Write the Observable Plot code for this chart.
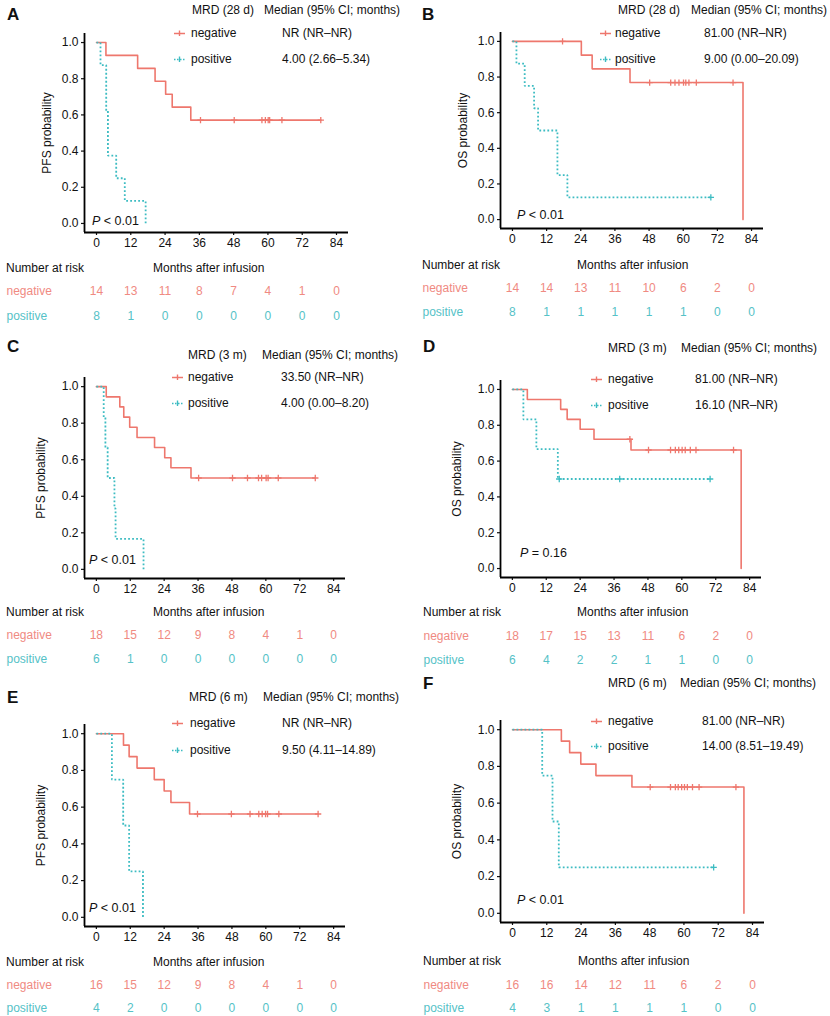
<!DOCTYPE html>
<html><head><meta charset="utf-8">
<script src="https://cdn.jsdelivr.net/npm/d3@7"></script>
<script src="https://cdn.jsdelivr.net/npm/@observablehq/plot@0.6"></script>
<style>
body{margin:0;background:#fff;font-family:"Liberation Sans",Arial,Helvetica,sans-serif;color:#111;}
#page{position:relative;width:830px;height:1016px;overflow:hidden;background:#fff;}
.abs{position:absolute;white-space:nowrap;line-height:1;font-size:12px;transform:translateY(-50%);}
.letter{font-weight:bold;font-size:17px;}
svg.plot{position:absolute;overflow:visible;}
</style></head><body><div id="page"></div>
<script>
// ---------- data ----------
const monthTicks = [0, 12, 24, 36, 48, 60, 72, 84];
const probTicks = [0, 0.2, 0.4, 0.6, 0.8, 1.0];
const groups = ["negative", "positive"];

// Panel A: PFS, MRD (28 d)
const A_negT = [0, 3.3, 14.4, 20.5, 24.2, 26.5, 33];
const A_negS = [1, 0.929, 0.857, 0.786, 0.714, 0.643, 0.571];
const A_negC = [36.4, 48.2, 57.9, 59.1, 60.1, 60.6, 64.9, 78.5];
const A_posT = [0, 1.4, 3.4, 4.0, 6.9, 9.9, 17.2];
const A_posS = [1, 0.875, 0.625, 0.375, 0.25, 0.125, 0];
const A_posC = [];
const A_riskNeg = [14, 13, 11, 8, 7, 4, 1, 0];
const A_riskPos = [8, 1, 0, 0, 0, 0, 0, 0];

// Panel B: OS, MRD (28 d)
const B_negT = [0, 24.2, 28, 41.3, 81];
const B_negS = [1, 0.923, 0.846, 0.769, 0];
const B_negC = [17.6, 48.2, 55.6, 57.1, 58.5, 60.1, 60.9, 62, 64.6, 77.5];
const B_posT = [0, 1.4, 4.3, 7.6, 9.0, 15.8, 19.3];
const B_posS = [1, 0.875, 0.75, 0.625, 0.5, 0.25, 0.125];
const B_posC = [69.7];
const B_riskNeg = [14, 14, 13, 11, 10, 6, 2, 0];
const B_riskPos = [8, 1, 1, 1, 1, 1, 0, 0];

// Panel C: PFS, MRD (3 m)
const C_negT = [0, 3.5, 8.3, 9.7, 11.8, 14.4, 20.6, 24.2, 26.4, 33.5];
const C_negS = [1, 0.944, 0.889, 0.833, 0.778, 0.722, 0.667, 0.611, 0.556, 0.5];
const C_negC = [36.2, 48.2, 53.5, 57.4, 58.5, 60.1, 60.8, 64.4, 77.5];
const C_posT = [0, 2.6, 3.2, 4.0, 6.4, 6.8, 16.7];
const C_posS = [1, 0.833, 0.667, 0.5, 0.333, 0.167, 0];
const C_posC = [];
const C_riskNeg = [18, 15, 12, 9, 8, 4, 1, 0];
const C_riskPos = [6, 1, 0, 0, 0, 0, 0, 0];

// Panel D: OS, MRD (3 m)
const D_negT = [0, 5.3, 17.1, 19.4, 24.0, 28.9, 42, 81];
const D_negS = [1, 0.944, 0.889, 0.833, 0.778, 0.722, 0.662, 0];
const D_negC = [41.6, 48.2, 56, 57.7, 58.9, 60.1, 61.2, 63, 65, 78.3];
const D_posT = [0, 3.9, 8.5, 16.1];
const D_posS = [1, 0.833, 0.667, 0.5];
const D_posC = [16.6, 38, 70];
const D_riskNeg = [18, 17, 15, 13, 11, 6, 2, 0];
const D_riskPos = [6, 4, 2, 2, 1, 1, 0, 0];

// Panel E: PFS, MRD (6 m)
const E_negT = [0, 9.6, 11.6, 14.4, 20.5, 24.0, 26.4, 33];
const E_negS = [1, 0.9375, 0.875, 0.8125, 0.75, 0.6875, 0.625, 0.5625];
const E_negC = [35.8, 47.8, 54.4, 57.5, 58.7, 59.9, 60.6, 64.6, 78.5];
const E_posT = [0, 5.5, 9.5, 11.6, 16.5];
const E_posS = [1, 0.75, 0.5, 0.25, 0];
const E_posC = [];
const E_riskNeg = [16, 15, 12, 9, 8, 4, 1, 0];
const E_riskPos = [4, 2, 0, 0, 0, 0, 0, 0];

// Panel F: OS, MRD (6 m)
const F_negT = [0, 17.1, 20, 23.9, 29.2, 41.8, 81];
const F_negS = [1, 0.9375, 0.875, 0.8125, 0.75, 0.6875, 0];
const F_negC = [48.2, 55.3, 57, 58, 59.2, 60.2, 61.2, 63, 65.3, 78.2];
const F_posT = [0, 10.4, 14, 16.2];
const F_posS = [1, 0.75, 0.5, 0.25];
const F_posC = [70.4];
const F_riskNeg = [16, 16, 14, 12, 11, 6, 2, 0];
const F_riskPos = [4, 3, 1, 1, 1, 1, 0, 0];

// texts
const letters = ["A", "B", "C", "D", "E", "F"];
const yTitles = ["PFS probability", "OS probability", "PFS probability", "OS probability", "PFS probability", "OS probability"];
const mrdLabels = ["MRD (28 d)", "MRD (28 d)", "MRD (3 m)", "MRD (3 m)", "MRD (6 m)", "MRD (6 m)"];
const medianHeader = "Median (95% CI; months)";
const medNeg = ["NR (NR\u2013NR)", "81.00 (NR\u2013NR)", "33.50 (NR\u2013NR)", "81.00 (NR\u2013NR)", "NR (NR\u2013NR)", "81.00 (NR\u2013NR)"];
const medPos = ["4.00 (2.66\u20135.34)", "9.00 (0.00\u201320.09)", "4.00 (0.00\u20138.20)", "16.10 (NR\u2013NR)", "9.50 (4.11\u201314.89)", "14.00 (8.51\u201319.49)"];
const pTexts = ["< 0.01", "< 0.01", "< 0.01", "= 0.16", "< 0.01", "< 0.01"];
const riskTitle = "Number at risk";
const xTitle = "Months after infusion";

// ---------- styles / layout ----------
const RED = "#EE776D", TEAL = "#3DBCC2";
const RED_T = "#F08A82", TEAL_T = "#55C2C7";
const xDomain = [-4.2, 88.2], yDomain = [-0.05, 1.05];
const FONT = '"Liberation Sans", Arial, Helvetica, sans-serif';

const layout = [
  {Lx:0,   top:0,   h:252, ml:84, mr:67, mt:33, mb:20, lo:42, letter:[7,14],   leg:{hy:10, mrd:192, med:264, rows:[33,59], sym:174, lab:191, val:282}, p:[92,221], rTop:280, rRows:[11,36], rh:46, nar:[6,268], mx:153},
  {Lx:415, top:0,   h:252, ml:85, mr:67, mt:32, mb:24, lo:42, letter:[422,14], leg:{hy:10, mrd:618, med:691, rows:[33,59], sym:600, lab:615, val:704}, p:[517,215], rTop:277, rRows:[11,35], rh:46, nar:[422,265], mx:577},
  {Lx:0,   top:330, h:268, ml:84, mr:70, mt:47, mb:20, lo:48, letter:[7,346],  leg:{hy:355, mrd:188, med:262, rows:[377,403], sym:172, lab:188, val:281}, p:[89,560], rTop:624, rRows:[11,35], rh:46, nar:[6,612], mx:153},
  {Lx:415, top:330, h:268, ml:85, mr:69, mt:50, mb:21, lo:48, letter:[423,346],leg:{hy:348, mrd:608, med:681, rows:[379,405], sym:591, lab:608, val:695}, p:[520,553], rTop:625, rRows:[11,35], rh:46, nar:[423,612], mx:577},
  {Lx:0,   top:670, h:276, ml:84, mr:70, mt:54, mb:20, lo:48, letter:[7,697],  leg:{hy:697, mrd:189, med:263, rows:[723,750], sym:172, lab:190, val:282}, p:[89,908], rTop:974, rRows:[11,34], rh:42, nar:[6,962], mx:153},
  {Lx:415, top:670, h:272, ml:85, mr:66, mt:50, mb:20, lo:48, letter:[423,683],leg:{hy:683, mrd:608, med:680, rows:[721,746], sym:591, lab:608, val:702}, p:[517,900], rTop:974, rRows:[11,34], rh:42, nar:[423,961], mx:578}
];

const panelData = [
  [A_negT, A_negS, A_negC, A_posT, A_posS, A_posC, A_riskNeg, A_riskPos],
  [B_negT, B_negS, B_negC, B_posT, B_posS, B_posC, B_riskNeg, B_riskPos],
  [C_negT, C_negS, C_negC, C_posT, C_posS, C_posC, C_riskNeg, C_riskPos],
  [D_negT, D_negS, D_negC, D_posT, D_posS, D_posC, D_riskNeg, D_riskPos],
  [E_negT, E_negS, E_negC, E_posT, E_posS, E_posC, E_riskNeg, E_riskPos],
  [F_negT, F_negS, F_negC, F_posT, F_posS, F_posC, F_riskNeg, F_riskPos]
];

// ---------- helpers ----------
const page = document.getElementById("page");
function curvePts(T, S, C) {
  const pts = T.map((t, i) => ({t, s: S[i]}));
  const end = d3.max([...T, ...C]);
  if (end > T[T.length - 1]) pts.push({t: end, s: S[S.length - 1]});
  return pts;
}
function censorPts(T, S, C) {
  return C.map(t => ({t, s: S[d3.bisectRight(T, t) - 1]}));
}
function addText(html, x, y, cls, extra) {
  const d = document.createElement("div");
  d.className = "abs " + (cls || "");
  d.innerHTML = html;
  d.style.left = x + "px";
  d.style.top = y + "px";
  if (extra) Object.assign(d.style, extra);
  page.appendChild(d);
  return d;
}
function swatch(x, y, color, dotted) {
  const ns = "http://www.w3.org/2000/svg";
  const s = document.createElementNS(ns, "svg");
  s.setAttribute("width", 11); s.setAttribute("height", 10);
  s.style.position = "absolute"; s.style.left = x + "px"; s.style.top = (y - 5) + "px";
  s.innerHTML = `<line x1="0" y1="5.5" x2="11" y2="5.5" stroke="${color}" stroke-width="1.5" ${dotted ? 'stroke-dasharray="1.5,1.5"' : ''}/>` +
    `<line x1="5.5" y1="2.5" x2="5.5" y2="8" stroke="${color}" stroke-width="1.4"/>`;
  page.appendChild(s);
}
function place(svg, x, y) {
  svg.classList.add("plot");
  svg.style.left = x + "px"; svg.style.top = y + "px";
  page.appendChild(svg);
}

// ---------- build panels ----------
layout.forEach((L, i) => {
  const [nT, nS, nC, pT, pS, pC, rN, rP] = panelData[i];
  const negLine = curvePts(nT, nS, nC), posLine = curvePts(pT, pS, pC);
  const negCen = censorPts(nT, nS, nC), posCen = censorPts(pT, pS, pC);

  const km = Plot.plot({
    width: 415, height: L.h,
    marginLeft: L.ml, marginRight: L.mr, marginTop: L.mt, marginBottom: L.mb,
    style: {fontFamily: FONT, fontSize: "12px", color: "#111", background: "transparent", overflow: "visible"},
    x: {domain: xDomain},
    y: {domain: yDomain},
    marks: [
      Plot.axisX({ticks: monthTicks, tickSize: 3, tickPadding: 3, tickFormat: d => d, label: null, fontSize: 12, strokeWidth: 1.2}),
      Plot.axisY({ticks: probTicks, tickSize: 3, tickPadding: 3, tickFormat: d3.format(".1f"), label: yTitles[i],
                  labelAnchor: "center", labelOffset: L.lo, labelArrow: "none", fontSize: 12, strokeWidth: 1.2}),
      Plot.ruleX(xDomain.slice(0, 1), {stroke: "#000", strokeWidth: 1.8}),
      Plot.ruleY(yDomain.slice(0, 1), {stroke: "#000", strokeWidth: 1.8}),
      Plot.line(negLine, {x: "t", y: "s", curve: "step-after", stroke: RED, strokeWidth: 1.6}),
      Plot.dot(negCen, {x: "t", y: "s", symbol: "plus", r: 2.2, stroke: RED, strokeWidth: 1.3}),
      Plot.line(posLine, {x: "t", y: "s", curve: "step-after", stroke: TEAL, strokeWidth: 1.8, strokeDasharray: "1.8,2.2", strokeLinecap: "butt", strokeLinejoin: "miter"}),
      Plot.dot(posCen, {x: "t", y: "s", symbol: "plus", r: 2.2, stroke: TEAL, strokeWidth: 1.3})
    ]
  });
  place(km, L.Lx, L.top);

  // risk table
  const riskRows = [];
  monthTicks.forEach((t, j) => {
    riskRows.push({t, group: "negative", n: rN[j]});
    riskRows.push({t, group: "positive", n: rP[j]});
  });
  const risk = Plot.plot({
    width: 415, height: L.rh,
    marginLeft: L.ml, marginRight: L.mr, marginTop: 0, marginBottom: 0,
    style: {fontFamily: FONT, fontSize: "12px", background: "transparent", overflow: "visible"},
    x: {domain: xDomain, axis: null},
    y: {type: "point", domain: groups, range: L.rRows, padding: 0, axis: null},
    color: {domain: groups, range: [RED_T, TEAL_T]},
    marks: [
      Plot.text(riskRows, {x: "t", y: "group", text: "n", fill: "group", fontSize: 12}),
      Plot.text(groups, {y: d => d, text: d => d, fill: d => d, frameAnchor: "left", textAnchor: "start",
                         dx: (L.nar[0] - L.Lx) - L.ml, fontSize: 12})
    ]
  });
  place(risk, L.Lx, L.rTop);

  // headings, legend, annotations
  addText(letters[i], L.letter[0], L.letter[1], "letter");
  addText(riskTitle, L.nar[0], L.nar[1]);
  addText(xTitle, L.mx, L.nar[1]);
  const g = L.leg;
  addText(mrdLabels[i], g.mrd, g.hy);
  addText(medianHeader, g.med, g.hy);
  swatch(g.sym, g.rows[0], RED, false);
  swatch(g.sym, g.rows[1], TEAL, true);
  addText(groups[0], g.lab, g.rows[0]);
  addText(groups[1], g.lab, g.rows[1]);
  addText(medNeg[i], g.val, g.rows[0]);
  addText(medPos[i], g.val, g.rows[1]);
  addText("<i>P</i> " + pTexts[i], L.p[0], L.p[1], "", {fontSize: "12.5px"});
});
</script></body></html>
